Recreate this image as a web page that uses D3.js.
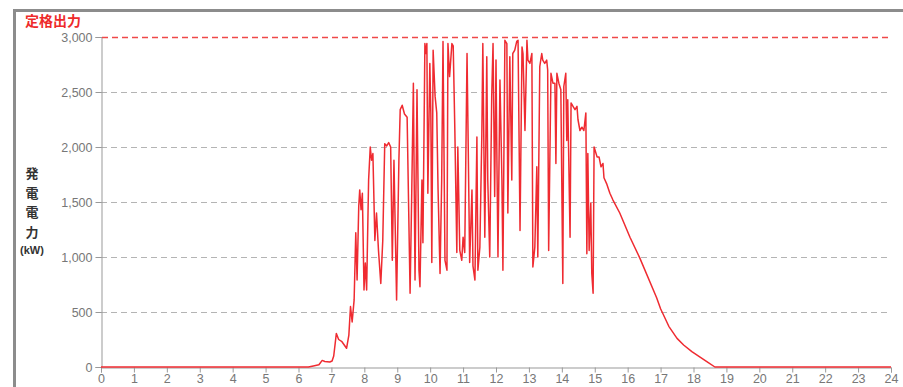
<!DOCTYPE html>
<html>
<head>
<meta charset="utf-8">
<script src="https://cdn.jsdelivr.net/npm/d3@7"></script>
<style>
  body { margin: 0; background: #fff; }
  svg { display: block; font-family: "Liberation Sans", Arial, sans-serif; }
</style>
</head>
<body>
<div id="chart"></div>
<script>
// hours of day and generated power (kW)
var hours = [0, 6.30, 6.45, 6.62, 6.72, 6.80, 6.95, 7.02, 7.07, 7.15, 7.22, 7.32, 7.46, 7.53, 7.58, 7.63, 7.69, 7.74, 7.78, 7.83,
  7.86, 7.90, 7.94, 7.99, 8.03, 8.07, 8.13, 8.18, 8.22, 8.26, 8.32, 8.37, 8.43, 8.50, 8.56, 8.62, 8.68, 8.74, 8.80, 8.85,
  8.90, 8.98, 9.05, 9.09, 9.15, 9.22, 9.30, 9.39, 9.44, 9.49, 9.54, 9.60, 9.66, 9.69, 9.75, 9.78, 9.84, 9.87, 9.90, 9.93,
  9.99, 10.02, 10.05, 10.09, 10.15, 10.20, 10.24, 10.30, 10.35, 10.39, 10.45, 10.51, 10.54, 10.59, 10.66, 10.70, 10.75, 10.81, 10.84, 10.90,
  10.96, 11.00, 11.05, 11.12, 11.15, 11.20, 11.27, 11.30, 11.36, 11.42, 11.45, 11.51, 11.57, 11.60, 11.66, 11.72, 11.75, 11.81, 11.87, 11.91,
  11.96, 12.00, 12.03, 12.06, 12.12, 12.18, 12.21, 12.27, 12.33, 12.36, 12.42, 12.48, 12.51, 12.57, 12.63, 12.67, 12.73, 12.79, 12.82, 12.88,
  12.94, 12.97, 13.03, 13.09, 13.12, 13.18, 13.24, 13.27, 13.33, 13.39, 13.42, 13.48, 13.54, 13.57, 13.60, 13.67, 13.73, 13.79, 13.82, 13.85,
  13.91, 13.97, 14.03, 14.06, 14.12, 14.15, 14.18, 14.25, 14.28, 14.34, 14.40, 14.46, 14.49, 14.55, 14.61, 14.67, 14.73, 14.76, 14.79, 14.83,
  14.88, 14.91, 14.95, 14.98, 15.01, 15.07, 15.13, 15.19, 15.25, 15.28, 15.37, 15.46, 15.55, 15.76, 16.07, 16.37, 16.88, 17.00, 17.25, 17.50,
  17.70, 17.95, 18.20, 18.45, 18.65, 24];
var power = [0, 0, 10, 20, 60, 50, 45, 55, 100, 305, 250, 230, 170, 290, 550, 410, 610, 1220, 790, 1460,
  1610, 1430, 1580, 700, 945, 700, 1700, 2000, 1880, 1940, 1150, 1400, 1060, 760, 1150, 2030, 2010, 2040, 2000, 970,
  1880, 610, 1880, 2340, 2380, 2300, 2270, 670, 1580, 2580, 790, 2520, 880, 730, 1700, 1130, 2940, 2850, 2940, 1580,
  2760, 2310, 950, 2880, 2460, 2310, 1610, 850, 1700, 2960, 970, 880, 2940, 2640, 2940, 2920, 2150, 1040, 2000, 1060,
  970, 1180, 1040, 2850, 2150, 950, 1610, 920, 790, 2090, 880, 1090, 2120, 2940, 1180, 2820, 1700, 1000, 2460, 2940,
  1550, 2790, 1820, 1000, 2610, 1700, 880, 2970, 2940, 1400, 2820, 1700, 2850, 2880, 2960, 2970, 1240, 2910, 2850, 2150,
  2970, 2790, 2760, 2850, 910, 1090, 1820, 1000, 2730, 2850, 2790, 2760, 2790, 2700, 1060, 2670, 2580, 2580, 1850, 2670,
  2580, 2520, 760, 2550, 2670, 2060, 2430, 1180, 2400, 2370, 2340, 2370, 2250, 2150, 2180, 2150, 2310, 1030, 1940, 1060,
  1490, 850, 670, 2000, 1970, 1910, 1910, 1820, 1850, 1720, 1660, 1580, 1520, 1400, 1180, 990, 630, 530, 370, 260,
  200, 140, 90, 40, 0, 0];

var xTicks = d3.range(0, 25);
var yTicks = [0, 500, 1000, 1500, 2000, 2500, 3000];
var ratedOutput = 3000;

var width = 903, height = 387;
var margin = { top: 37, right: 12, bottom: 20, left: 101 };

var svg = d3.select("#chart").append("svg")
  .attr("width", width)
  .attr("height", height);

// outer frame
svg.append("rect")
  .attr("x", 14.5).attr("y", 10.5)
  .attr("width", 1000).attr("height", 500)
  .attr("fill", "none")
  .attr("stroke", "#8c8c8c")
  .attr("stroke-width", 3);

var x = d3.scaleLinear().domain([0, 24]).range([margin.left, width - margin.right]);
var y = d3.scaleLinear().domain([0, 3000]).range([height - margin.bottom, margin.top]);

// dashed grid lines
svg.append("g")
  .selectAll("line")
  .data(yTicks.filter(function(d) { return d > 0 && d < ratedOutput; }))
  .enter().append("line")
  .attr("x1", x(0)).attr("x2", x(24))
  .attr("y1", function(d) { return Math.round(y(d)) + 0.5; })
  .attr("y2", function(d) { return Math.round(y(d)) + 0.5; })
  .attr("stroke", "#b4b4b4")
  .attr("stroke-dasharray", "6,4");

// axes
var xAxis = svg.append("g")
  .attr("transform", "translate(0," + (Math.round(y(0)) + 0.5) + ")")
  .call(d3.axisBottom(x).tickValues(xTicks).tickSize(5).tickPadding(2).tickFormat(d3.format("d")));

var yAxis = svg.append("g")
  .attr("transform", "translate(" + (Math.round(x(0)) + 0.5) + ",0)")
  .call(d3.axisLeft(y).tickValues(yTicks).tickSize(6).tickPadding(3).tickFormat(d3.format(",")));

[xAxis, yAxis].forEach(function(a) {
  a.select(".domain").attr("stroke", "#999");
  a.selectAll(".tick line").attr("stroke", "#999");
  a.selectAll(".tick text")
    .attr("fill", "#777")
    .style("font-size", "12.5px")
    .style("font-family", "'Liberation Sans', Arial, sans-serif");
});

// rated output line (drawn after the axes so the red stays on top)
svg.append("line")
  .attr("x1", x(0) + 1).attr("x2", x(24))
  .attr("y1", Math.round(y(ratedOutput)) + 0.5)
  .attr("y2", Math.round(y(ratedOutput)) + 0.5)
  .attr("stroke", "#f04848")
  .attr("stroke-width", 1.4)
  .attr("stroke-dasharray", "6,4");

// power line
var line = d3.line()
  .x(function(d) { return x(d[0]); })
  .y(function(d) { return y(d[1]); });

svg.append("path")
  .datum(d3.zip(hours, power))
  .attr("d", line)
  .attr("fill", "none")
  .attr("stroke", "#ef2b31")
  .attr("stroke-width", 1.5)
  .attr("stroke-linejoin", "round");

// title and axis label
svg.append("text")
  .attr("x", 25).attr("y", 26)
  .attr("fill", "#ee2a2a")
  .style("font-family", "'Noto Sans CJK JP', sans-serif")
  .style("font-size", "14px")
  .style("font-weight", "bold")
  .text("定格出力");

var ylabel = svg.append("text")
  .attr("fill", "#333")
  .attr("text-anchor", "middle")
  .style("font-family", "'Noto Sans CJK JP', sans-serif")
  .style("font-weight", "bold");

"発電電力".split("").forEach(function(c, i) {
  ylabel.append("tspan")
    .attr("x", 32).attr("y", 178 + i * 19.5)
    .style("font-size", "13px")
    .text(c);
});
ylabel.append("tspan")
  .attr("x", 32).attr("y", 254)
  .style("font-size", "11px")
  .style("font-family", "'Liberation Sans', Arial, sans-serif")
  .text("(kW)");
</script>
</body>
</html>
